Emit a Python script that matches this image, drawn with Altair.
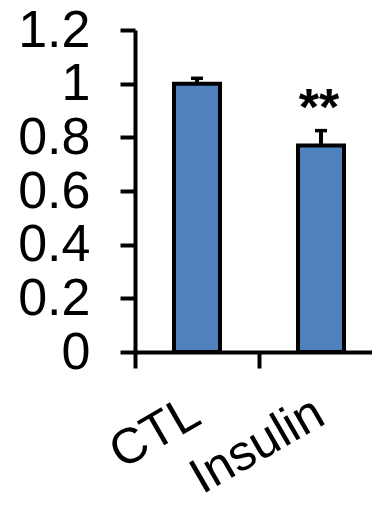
import altair as alt
import pandas as pd

groups = ["CTL", "Insulin"]
means = [1.0, 0.77]
errors = [0.02, 0.055]
sig = ["", "**"]
y_ticks = [0, 0.2, 0.4, 0.6, 0.8, 1, 1.2]

df = pd.DataFrame({"group": groups, "mean": means, "err": errors, "sig": sig})
df["upper"] = df["mean"] + df["err"]

FONT = "Liberation Sans"

xenc = alt.X(
    "group:N",
    sort=groups,
    scale=alt.Scale(range=[0, 248], paddingInner=0, paddingOuter=0),
    axis=alt.Axis(
        title=None,
        tickBand="extent",
        domainColor="black",
        domainWidth=4,
        tickColor="black",
        tickWidth=4,
        tickSize=16,
        labelAngle=-30,
        labelAlign="right",
        labelBaseline="alphabetic",
        labelPadding=54,
        labelOffset=6,
        labelFontSize=50,
        labelFont=FONT,
        labelColor="black",
        labelLimit=400,
        grid=False,
    ),
)

yaxis = alt.Axis(
    title=None,
    values=y_ticks,
    format="~g",
    domainColor="black",
    domainWidth=4,
    tickColor="black",
    tickWidth=4,
    tickSize=15,
    labelPadding=30,
    labelFontSize=52,
    labelFont=FONT,
    labelColor="black",
    grid=False,
)
yscale = alt.Scale(domain=[0, 1.2], nice=False, zero=True)

base = alt.Chart(df).encode(x=xenc)

bars = base.mark_bar(size=46, color="#4F81BD", stroke="black", strokeWidth=4).encode(
    y=alt.Y("mean:Q", scale=yscale, axis=yaxis)
)
stem = base.mark_rule(color="black", strokeWidth=4).encode(
    y=alt.Y("mean:Q", scale=yscale, axis=yaxis), y2="upper:Q"
)
cap = base.mark_tick(color="black", size=12, thickness=3.5, opacity=1).encode(
    y=alt.Y("upper:Q", scale=yscale, axis=yaxis)
)
stars = base.mark_text(
    font=FONT, fontSize=52, fontWeight="bold", color="black",
    baseline="alphabetic", align="center", dy=-6, dx=-2
).encode(
    y=alt.Y("upper:Q", scale=yscale, axis=yaxis), text="sig:N"
)

chart = alt.layer(bars, stem, cap, stars).properties(
    width=237,
    height=322,
    autosize=alt.AutoSizeParams(type="none"),
    padding={"left": 127, "top": 22, "right": 0, "bottom": 144},
).configure_view(stroke=None)

chart.save("out.html", embed_options={"renderer": "svg", "actions": False})
